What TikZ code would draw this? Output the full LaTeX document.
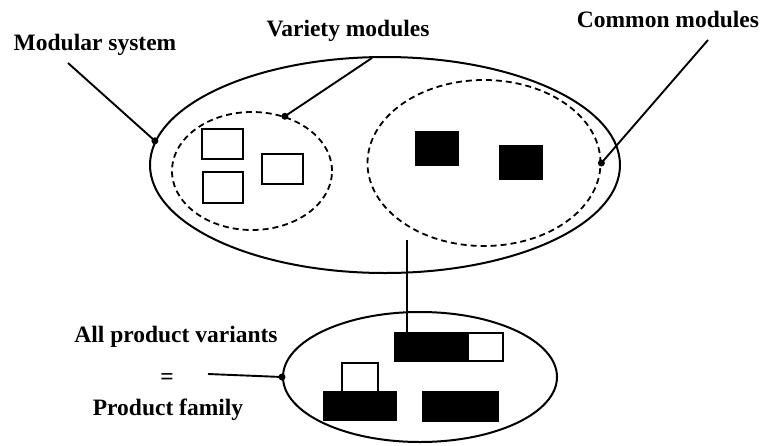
\documentclass[tikz,border=0pt]{standalone}
\usepackage{fontspec}
\setmainfont{Liberation Serif}
\usetikzlibrary{shapes.geometric}
\begin{document}
\begin{tikzpicture}[x=1pt,y=-1pt,
  outline/.style={draw,ellipse,line width=2pt,inner sep=0pt},
  dashedell/.style={draw,ellipse,dash pattern=on 6pt off 4pt,line width=1.8pt,inner sep=0pt},
  wbox/.style={draw,line width=2pt,fill=white,inner sep=0pt},
  bbox/.style={draw,line width=1.5pt,fill=black,inner sep=0pt},
  lbl/.style={font=\fontsize{23.5}{28}\selectfont\bfseries,inner sep=0pt,align=center},
  dot/.style={circle,fill=black,inner sep=0pt,minimum size=7pt},
  lead/.style={line width=1.9pt}]
\useasboundingbox (0,0) rectangle (764,445);
% ellipses
\node[outline,minimum width=470pt,minimum height=216pt] (sys) at (385,165) {};
\node[dashedell,minimum width=160pt,minimum height=118pt] (var) at (252,171) {};
\node[dashedell,minimum width=233pt,minimum height=166pt] (com) at (484,163) {};
\node[outline,minimum width=274pt,minimum height=130pt] (fam) at (420,377) {};
% variety modules
\node[wbox,minimum width=41pt,minimum height=30pt] (v1) at (222.5,144) {};
\node[wbox,minimum width=40pt,minimum height=31pt] (v2) at (223,187.5) {};
\node[wbox,minimum width=41pt,minimum height=30pt] (v3) at (282.5,169) {};
% common modules
\node[bbox,minimum width=42pt,minimum height=33pt] (c1) at (437,148.5) {};
\node[bbox,minimum width=42pt,minimum height=33pt] (c2) at (521,162.5) {};
% product family
\node[bbox,minimum width=73pt,minimum height=28pt] (p1) at (431.5,347) {};
\node[wbox,minimum width=35pt,minimum height=28pt] (p2) at (485.5,347) {};
\node[wbox,minimum width=36pt,minimum height=29pt] (p3) at (360,377.5) {};
\node[bbox,minimum width=72pt,minimum height=28pt] (p4) at (360,406) {};
\node[bbox,minimum width=75pt,minimum height=29pt] (p5) at (460.5,406.5) {};
% labels
\node[lbl] (lsys) at (95,45) {Modular system};
\node[lbl] (lvar) at (348,31) {Variety modules};
\node[lbl] (lcom) at (668,19) {Common modules};
\node[lbl] (lall) at (176,337) {All product variants};
\node[lbl] (leq) at (167,379) {=};
\node[lbl] (lfam) at (168,410) {Product family};
% dots
\node[dot] (dsys) at (sys.174) {};
\node[dot] (dvar) at (var.59) {};
\node[dot] (dcom) at (com.0) {};
\node[dot] (dfam) at (fam.180) {};
% leader ends
\coordinate (esys) at (68,63);
\coordinate (evar) at (372,58);
\coordinate (ecom) at (708,40);
\coordinate (efam) at (208,374);
\coordinate (vtop) at (407,240);
\draw[lead] (esys) -- (dsys.center);
\draw[lead] (evar) -- (dvar.center);
\draw[lead] (ecom) -- (dcom.center);
\draw[lead] (efam) -- (dfam.center);
\draw[lead] (vtop) -- (vtop |- p1.north);
\end{tikzpicture}
\end{document}
